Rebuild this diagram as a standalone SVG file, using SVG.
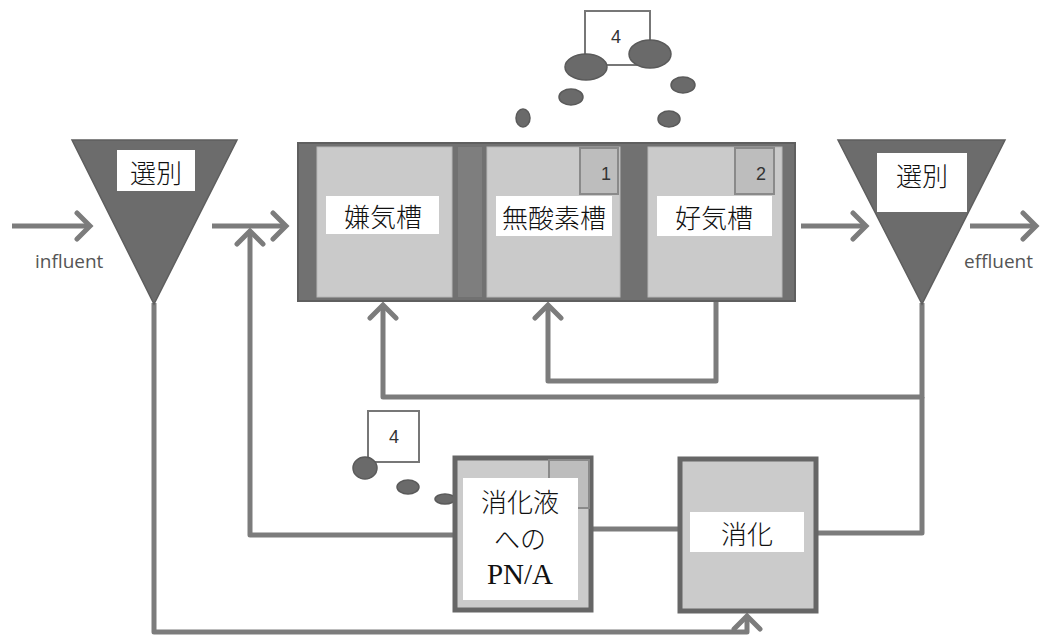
<svg xmlns="http://www.w3.org/2000/svg" width="1043" height="637" viewBox="0 0 1043 637">
  <defs>
    <style>
      .flow { fill: none; stroke: #7c7c7c; stroke-width: 5; stroke-linejoin: round; }
      .arrow { marker-end: url(#chev); }
      .sep { fill: #6c6c6c; stroke: #5e5e5e; stroke-width: 1.5; }
      .tank { fill: #717171; stroke: #5f5f5f; stroke-width: 2; }
      .cell { fill: #cacaca; stroke: #b8b8b8; stroke-width: 1; }
      .tag { fill: #bdbdbd; stroke: #8a8a8a; stroke-width: 2; }
      .box { fill: #cbcbcb; stroke: #666666; stroke-width: 5; }
      .label { fill: #ffffff; }
      .jp { font-family: "Noto Sans CJK JP", "Noto Sans CJK SC", sans-serif; font-weight: 300; font-size: 26px; fill: #111111; text-anchor: middle; dominant-baseline: central; }
      .mix { font-family: "Noto Sans CJK JP", sans-serif; font-weight: 300; font-size: 26px; fill: #111111; text-anchor: middle; dominant-baseline: central; }
      .latin { font-family: "Liberation Serif", "Times New Roman", serif; font-weight: 400; font-size: 29px; fill: #111111; text-anchor: middle; dominant-baseline: central; }
      .num { font-family: "Liberation Sans", Arial, sans-serif; font-size: 18px; fill: #333333; text-anchor: middle; dominant-baseline: central; }
      .io { font-family: "Open Sans", "Liberation Sans", sans-serif; font-size: 19px; fill: #555555; }
      .numbox { fill: #ffffff; stroke: #777777; stroke-width: 2; }
      .floc { fill: #6a6a6a; stroke: #5a5a5a; stroke-width: 1.5; }
    </style>
    <marker id="chev" markerUnits="userSpaceOnUse" viewBox="-16 -16 20 32" refX="0" refY="0" markerWidth="20" markerHeight="32" orient="auto">
      <path d="M-13,-13 L0,0 L-13,13" fill="none" stroke="#7c7c7c" stroke-width="5" stroke-linecap="round" stroke-linejoin="miter"/>
    </marker>
  </defs>

  <rect width="1043" height="637" fill="#ffffff"/>

  <!-- pipes and return lines -->
  <g id="connectors">
    <path class="flow arrow" d="M12,226 H90"/>
    <path class="flow arrow" d="M212,226 H286"/>
    <path class="flow arrow" d="M801,226 H866"/>
    <path class="flow arrow" d="M970,226 H1036"/>
    <!-- recycle to anaerobic zone -->
    <path class="flow arrow" d="M922,303 V397 H383 V305"/>
    <!-- internal recycle aerobic to anoxic -->
    <path class="flow arrow" d="M716,300 V381 H548 V305"/>
    <!-- PN/A return to inlet -->
    <path class="flow arrow" d="M455,535 H250 V231"/>
    <!-- PN/A to digester -->
    <path class="flow" d="M593,529 H678"/>
    <!-- digester to secondary settler line -->
    <path class="flow" d="M817,533 H922 V397"/>
    <!-- primary sludge to digester -->
    <path class="flow arrow" d="M154,303 V632 H747 V616"/>
  </g>

  <!-- primary selector -->
  <g id="selector-in">
    <polygon class="sep" points="72,140 237,140 154,304"/>
    <rect class="label" x="117" y="150" width="78" height="41"/>
    <text class="jp" x="156" y="171">選別</text>
    <text class="io" x="35" y="268">influent</text>
  </g>

  <!-- biological reactor train -->
  <g id="reactor">
    <rect class="tank" x="298" y="143" width="497" height="158"/>
    <rect x="458" y="147" width="24" height="150" fill="#7e7e7e"/>
    <rect class="cell" x="317" y="147" width="135" height="150"/>
    <rect class="cell" x="487" y="147" width="133" height="150"/>
    <rect class="cell" x="648" y="147" width="134" height="150"/>
  </g>

  <g id="anaerobic">
    <rect class="label" x="326" y="196" width="113" height="38"/>
    <text class="jp" x="383" y="215" font-size="27">嫌気槽</text>
  </g>

  <g id="anoxic">
    <rect class="tag" x="580" y="148" width="38" height="46"/>
    <text class="num" x="606" y="174">1</text>
    <rect class="label" x="496" y="196" width="116" height="40"/>
    <text class="jp" x="554" y="216" font-size="27">無酸素槽</text>
  </g>

  <g id="aerobic">
    <rect class="tag" x="735" y="148" width="39" height="46"/>
    <text class="num" x="761" y="174">2</text>
    <rect class="label" x="657" y="196" width="115" height="40"/>
    <text class="jp" x="714" y="216" font-size="27">好気槽</text>
  </g>

  <!-- granule / floc symbols above reactor -->
  <g id="granules-top">
    <rect class="numbox" x="585" y="11" width="65" height="54"/>
    <text class="num" x="616" y="37">4</text>
    <ellipse class="floc" cx="586" cy="67" rx="21" ry="13"/>
    <ellipse class="floc" cx="650" cy="54" rx="21" ry="14"/>
    <ellipse class="floc" cx="571" cy="97" rx="12" ry="8"/>
    <ellipse class="floc" cx="683" cy="85" rx="12" ry="8"/>
    <ellipse class="floc" cx="523" cy="118" rx="7" ry="9"/>
    <ellipse class="floc" cx="669" cy="119" rx="11" ry="8"/>
  </g>

  <!-- secondary selector -->
  <g id="selector-out">
    <polygon class="sep" points="838,140 1005,140 922,304"/>
    <rect class="label" x="877" y="153" width="90" height="59"/>
    <text class="jp" x="922" y="174">選別</text>
    <text class="io" x="964" y="268">effluent</text>
  </g>

  <!-- granules near PN/A -->
  <g id="granules-pna">
    <rect class="numbox" x="368" y="411" width="51" height="51"/>
    <text class="num" x="394" y="437">4</text>
    <ellipse class="floc" cx="365" cy="468" rx="12" ry="11"/>
    <ellipse class="floc" cx="408" cy="487" rx="11" ry="7"/>
    <ellipse class="floc" cx="445" cy="499" rx="10" ry="5"/>
  </g>

  <!-- partial nitritation / anammox on reject water -->
  <g id="pna">
    <rect class="box" x="455" y="458" width="136" height="152"/>
    <rect class="tag" x="549" y="460" width="40" height="48"/>
    <rect class="label" x="463" y="478" width="115" height="122"/>
    <text class="mix" x="520" y="500">消化液</text>
    <text class="mix" x="520" y="537">への</text>
    <text class="latin" x="520" y="574">PN/A</text>
  </g>

  <!-- sludge digester -->
  <g id="digester">
    <rect class="box" x="680" y="459" width="136" height="152"/>
    <rect class="label" x="690" y="512" width="114" height="40"/>
    <text class="jp" x="747" y="532">消化</text>
  </g>
</svg>
